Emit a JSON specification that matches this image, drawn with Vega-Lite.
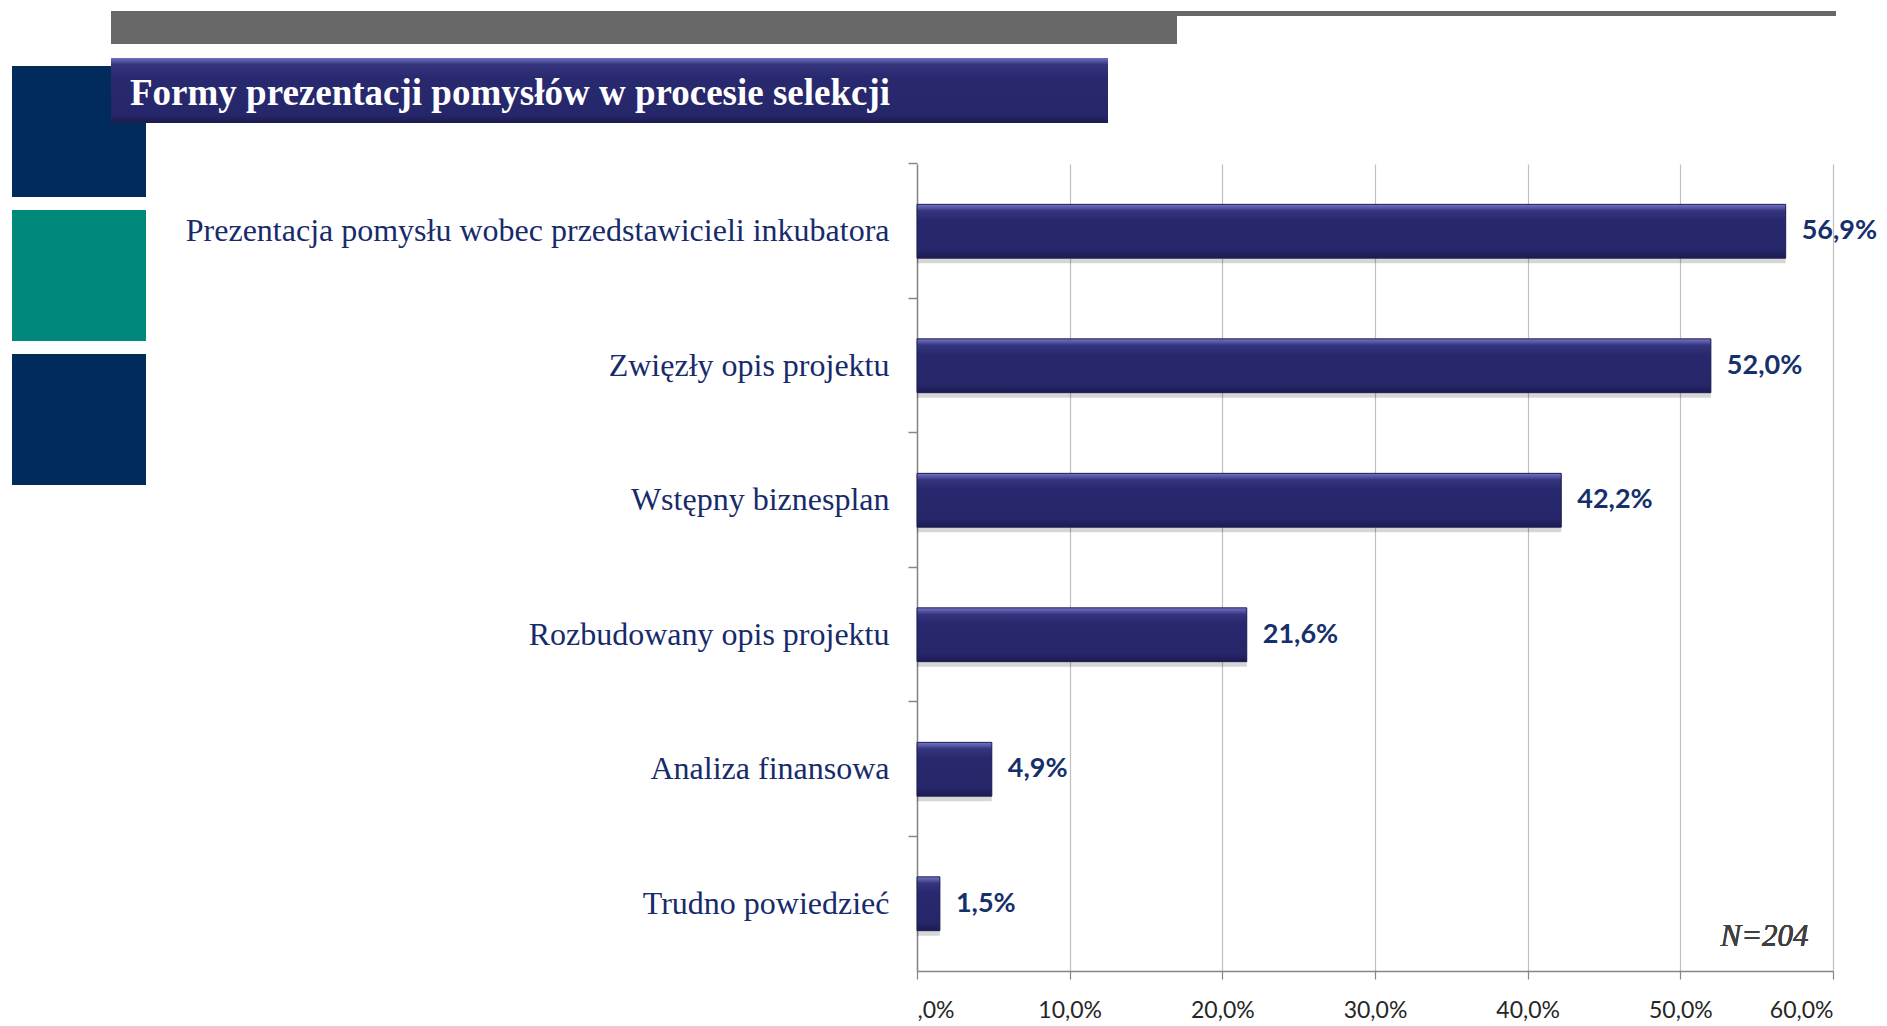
{
  "$schema": "https://vega.github.io/schema/vega-lite/v6.json",
  "background": "#FFFFFF",
  "padding": {"left": 12, "top": 11, "right": 0, "bottom": 0},
  "config": {
    "view": {"stroke": null},
    "locale": {"number": {"decimal": ",", "thousands": " ", "grouping": [3], "currency": ["", " zł"]}}
  },
  "spacing": 0,
  "vconcat": [
    {
      "spacing": 0,
      "hconcat": [
        {
          "spacing": 0,
          "vconcat": [
            {"width": 99, "height": 55, "data": {"values": []}, "mark": "rect"},
            {"width": 99, "height": 57, "data": {"values": []}, "mark": "rect", "view": {"fill": "#002B5A", "stroke": null}}
          ]
        },
        {
          "spacing": 14,
          "vconcat": [
            {
              "spacing": 0,
              "hconcat": [
                {"width": 1066, "height": 33, "data": {"values": []}, "mark": "rect", "view": {"fill": "#686868", "stroke": null}},
                {"width": 659, "height": 5, "data": {"values": []}, "mark": "rect", "view": {"fill": "#686868", "stroke": null}}
              ]
            },
            {
              "width": 997, "height": 65,
              "data": {"values": [{"tytul": "Formy prezentacji pomysłów w procesie selekcji"}]},
              "mark": {"type": "text", "align": "left", "baseline": "middle", "dx": -479.5, "dy": 3,
                "font": "Liberation Serif", "fontSize": 37, "fontWeight": "bold", "color": "#FFFFFF"},
              "encoding": {"text": {"field": "tytul", "type": "nominal"}},
              "view": {
                "fill": {"gradient": "linear", "x1": 0, "y1": 0, "x2": 0, "y2": 1,
                  "stops": [
                    {"offset": 0, "color": "#7070C0"},
                    {"offset": 0.1, "color": "#36367F"},
                    {"offset": 0.3, "color": "#29296F"},
                    {"offset": 0.88, "color": "#26266A"},
                    {"offset": 1, "color": "#1B1B4F"}
                  ]},
                "stroke": null
              }
            }
          ]
        }
      ]
    },
    {
      "spacing": 0,
      "hconcat": [
        {
          "spacing": 13,
          "vconcat": [
            {"width": 134, "height": 74, "data": {"values": []}, "mark": "rect", "view": {"fill": "#002B5A", "stroke": null}},
            {"width": 134, "height": 131, "data": {"values": []}, "mark": "rect", "view": {"fill": "#00897A", "stroke": null}},
            {"width": 134, "height": 131, "data": {"values": []}, "mark": "rect", "view": {"fill": "#002B5A", "stroke": null}}
          ]
        },
        {
          "spacing": 0,
          "vconcat": [
            {"width": 10, "height": 39, "data": {"values": []}, "mark": "rect"},
            {
              "spacing": 0,
              "bounds": "flush",
              "hconcat": [
                {"width": 771, "height": 10, "data": {"values": []}, "mark": "rect"},
                {
                  "width": 916, "height": 807,
                  "data": {"values": [
                    {"forma": "Prezentacja pomysłu wobec przedstawicieli inkubatora", "procent": 0.569},
                    {"forma": "Zwięzły opis projektu", "procent": 0.520},
                    {"forma": "Wstępny biznesplan", "procent": 0.422},
                    {"forma": "Rozbudowany opis projektu", "procent": 0.216},
                    {"forma": "Analiza finansowa", "procent": 0.049},
                    {"forma": "Trudno powiedzieć", "procent": 0.015}
                  ]},
                  "encoding": {
                    "x": {
                      "field": "procent", "type": "quantitative",
                      "scale": {"domain": [0, 0.6], "nice": false, "zero": true},
                      "axis": {
                        "title": null, "values": [0, 0.1, 0.2, 0.3, 0.4, 0.5, 0.6], "format": ".1%",
                        "labelExpr": "datum.value == 0 ? ',0%' : replace(datum.label, '.', ',')",
                        "grid": true, "gridColor": "#BFBFBF", "gridWidth": 1.2,
                        "domainColor": "#868686", "domainWidth": 1.5,
                        "tickColor": "#868686", "tickSize": 8, "tickWidth": 1.2,
                        "labelFont": "Lato", "labelFontSize": 23, "labelColor": "#262626", "labelPadding": 20
                      }
                    }
                  },
                  "layer": [
                    {
                      "mark": {"type": "bar", "color": "#000000", "opacity": 0.16, "yOffset": 5},
                      "encoding": {
                        "y": {
                          "field": "forma", "type": "nominal", "sort": null,
                          "scale": {"paddingInner": 0.6, "paddingOuter": 0.3},
                          "axis": {"orient": "left", "title": null, "labels": false, "domain": false, "grid": false,
                            "ticks": true, "tickSize": 9, "tickColor": "#868686", "tickWidth": 1.5, "bandPosition": -0.75}
                        }
                      }
                    },
                    {
                      "mark": {
                        "type": "bar",
                        "color": {"gradient": "linear", "x1": 0, "y1": 0, "x2": 0, "y2": 1,
                          "stops": [
                            {"offset": 0, "color": "#7676C6"},
                            {"offset": 0.12, "color": "#35357F"},
                            {"offset": 0.3, "color": "#28286E"},
                            {"offset": 0.85, "color": "#26266A"},
                            {"offset": 1, "color": "#1B1B50"}
                          ]},
                        "stroke": "#1C1C55", "strokeWidth": 1
                      },
                      "encoding": {
                        "y": {
                          "field": "forma", "type": "nominal", "sort": null,
                          "axis": {"orient": "left", "title": null, "ticks": false, "domain": true,
                            "domainColor": "#868686", "domainWidth": 1.5,
                            "labelFont": "Liberation Serif", "labelFontSize": 32, "labelColor": "#172B6B",
                            "labelPadding": 28, "labelLimit": 1000}
                        }
                      }
                    },
                    {
                      "mark": {"type": "text", "align": "left", "baseline": "middle", "dx": 16,
                        "font": "Lato", "fontSize": 27, "fontWeight": "bold", "color": "#15306B"},
                      "encoding": {
                        "y": {"field": "forma", "type": "nominal", "sort": null, "axis": null},
                        "text": {"field": "procent", "type": "quantitative", "format": ".1%"}
                      }
                    },
                    {
                      "mark": {"type": "text", "align": "right", "baseline": "middle", "dy": 33,
                        "font": "Liberation Serif", "fontStyle": "italic", "fontSize": 31, "color": "#404040", "text": "N=204"},
                      "encoding": {
                        "x": {"datum": 0.584, "type": "quantitative"},
                        "y": {"datum": "Trudno powiedzieć", "type": "nominal", "axis": null}
                      }
                    }
                  ],
                  "resolve": {"axis": {"y": "independent"}}
                }
              ]
            }
          ]
        }
      ]
    }
  ]
}
